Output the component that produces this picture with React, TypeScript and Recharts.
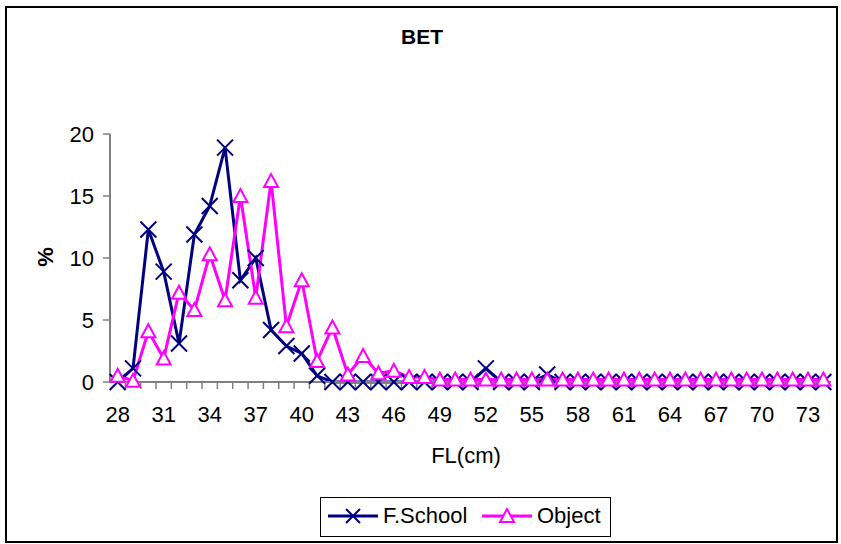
import { LineChart, Line, XAxis, YAxis } from 'recharts';

const FONT = '"Liberation Sans", Arial, sans-serif';
const NAVY = '#000080';
const MAGENTA = '#FF00FF';
const AXIS = '#808080';

// FL (cm) classes
const flClasses = [
  28, 29, 30, 31, 32, 33, 34, 35, 36, 37, 38, 39, 40, 41, 42, 43, 44, 45, 46, 47, 48, 49, 50, 51,
  52, 53, 54, 55, 56, 57, 58, 59, 60, 61, 62, 63, 64, 65, 66, 67, 68, 69, 70, 71, 72, 73, 74,
];

const fSchool = [
  0, 1.1, 12.3, 8.9, 3.1, 11.9, 14.2, 18.9, 8.2, 10.0, 4.2, 2.9, 2.3, 0.5, 0, 0, 0, 0, 0, 0, 0, 0, 0, 0,
  1.1, 0, 0, 0, 0.6, 0, 0, 0, 0, 0, 0, 0, 0, 0, 0, 0, 0, 0, 0, 0, 0, 0, 0,
];

const objectSet = [
  0.5, 0.1, 4.1, 1.9, 7.2, 5.8, 10.3, 6.6, 15.0, 6.8, 16.2, 4.5, 8.2, 1.7, 4.4, 0.6, 2.1, 0.7, 0.9, 0.4, 0.4, 0.2, 0.2, 0.2,
  0.2, 0.2, 0.2, 0.2, 0.2, 0.2, 0.2, 0.2, 0.2, 0.2, 0.2, 0.2, 0.2, 0.2, 0.2, 0.2, 0.2, 0.2, 0.2, 0.2, 0.2, 0.2, 0.2,
];

const xLabelTicks = [28, 31, 34, 37, 40, 43, 46, 49, 52, 55, 58, 61, 64, 67, 70, 73];
const xMinorTicks = [
  28.5, 29.5, 30.5, 31.5, 32.5, 33.5, 34.5, 35.5, 36.5, 37.5, 38.5, 39.5, 40.5, 41.5, 42.5, 43.5,
  44.5, 45.5, 46.5, 47.5, 48.5, 49.5, 50.5, 51.5, 52.5, 53.5, 54.5, 55.5, 56.5, 57.5, 58.5, 59.5,
  60.5, 61.5, 62.5, 63.5, 64.5, 65.5, 66.5, 67.5, 68.5, 69.5, 70.5, 71.5, 72.5, 73.5,
];
const yTicks = [0, 5, 10, 15, 20];

const data = flClasses.map((fl, i) => ({ fl, fSchool: fSchool[i], object: objectSet[i] }));

const Cross = ({ cx, cy, size = 8 }: { cx: number; cy: number; size?: number }) => (
  <path
    d={`M${cx - size},${cy - size}L${cx + size},${cy + size}M${cx - size},${cy + size}L${cx + size},${cy - size}`}
    stroke={NAVY}
    strokeWidth={2}
    fill="none"
  />
);

const Tri = ({ cx, cy }: { cx: number; cy: number }) => (
  <path
    d={`M${cx},${cy - 7}L${cx + 7},${cy + 6}L${cx - 7},${cy + 6}Z`}
    stroke={MAGENTA}
    strokeWidth={2}
    fill="#fff"
  />
);

const tickStyle = { fontFamily: FONT, fontSize: 22, fill: '#000' };

export default function App() {
  return (
    <div style={{ position: 'absolute', left: 0, top: 0, width: 841, height: 544, background: '#fff' }}>
      <div
        style={{
          position: 'absolute',
          left: 5,
          top: 6,
          width: 829,
          height: 533,
          border: '2px solid #000',
        }}
      />
      <div style={{ position: 'absolute', left: 0, top: 0 }}>
        <LineChart width={841} height={544} data={data} margin={{ top: 134, right: 10, bottom: 121, left: 40 }}>
          <XAxis
            xAxisId="b"
            dataKey="fl"
            type="number"
            domain={[27.5, 74.5]}
            ticks={xLabelTicks}
            interval={0}
            tickLine={false}
            tickSize={0}
            tickMargin={23}
            axisLine={false}
            tick={tickStyle}
            height={40}
          />
          <XAxis
            xAxisId="a"
            dataKey="fl"
            type="number"
            domain={[27.5, 74.5]}
            ticks={xMinorTicks}
            interval={0}
            tick={() => <g />}
            tickSize={7}
            axisLine={{ stroke: AXIS, strokeWidth: 2 }}
            tickLine={{ stroke: AXIS, strokeWidth: 1.5 }}
            height={1}
          />
          <YAxis
            domain={[0, 20]}
            ticks={yTicks}
            interval={0}
            width={70}
            tickSize={7}
            tickMargin={9}
            axisLine={{ stroke: AXIS, strokeWidth: 2 }}
            tickLine={{ stroke: AXIS, strokeWidth: 1.5 }}
            tick={tickStyle}
          />
          {/* invisible series so the minor-tick axis has data */}
          <Line
            xAxisId="a"
            dataKey="fSchool"
            stroke="none"
            dot={false}
            activeDot={false}
            isAnimationActive={false}
          />
          <Line
            xAxisId="b"
            dataKey="fSchool"
            stroke={NAVY}
            strokeWidth={3}
            isAnimationActive={false}
            dot={(p: any) => <Cross key={`c${p.index}`} cx={p.cx} cy={p.cy} />}
          />
          <Line
            xAxisId="b"
            dataKey="object"
            stroke={MAGENTA}
            strokeWidth={3}
            isAnimationActive={false}
            dot={(p: any) => <Tri key={`t${p.index}`} cx={p.cx} cy={p.cy} />}
          />
        </LineChart>
      </div>
      <svg width={841} height={544} style={{ position: 'absolute', left: 0, top: 0, pointerEvents: 'none' }}>
        <text x={422} y={44} textAnchor="middle" fontFamily={FONT} fontSize={21} fontWeight="bold">
          BET
        </text>
        <text x={466} y={463} textAnchor="middle" fontFamily={FONT} fontSize={22}>
          FL(cm)
        </text>
        <text
          transform="translate(53,257) rotate(-90)"
          textAnchor="middle"
          fontFamily={FONT}
          fontSize={22}
          fontWeight="bold"
        >
          %
        </text>
        <rect x={320.5} y={497.5} width={290} height={39} fill="#fff" stroke="#000" strokeWidth={1} />
        <line x1={328} y1={516} x2={378} y2={516} stroke={NAVY} strokeWidth={3} />
        <Cross cx={353} cy={516} size={7} />
        <text x={383} y={523} fontFamily={FONT} fontSize={22}>
          F.School
        </text>
        <line x1={482} y1={516} x2={532} y2={516} stroke={MAGENTA} strokeWidth={3} />
        <Tri cx={507} cy={516} />
        <text x={537} y={523} fontFamily={FONT} fontSize={22}>
          Object
        </text>
      </svg>
    </div>
  );
}
